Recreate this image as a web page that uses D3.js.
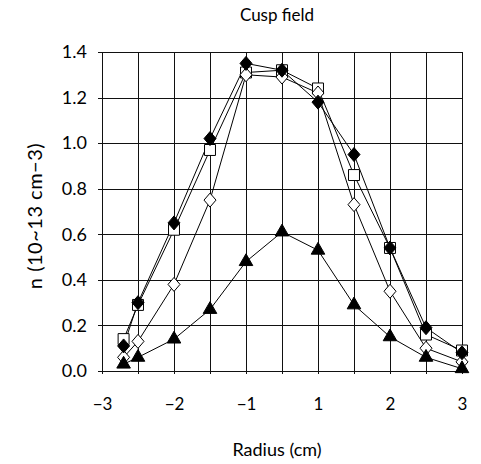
<!DOCTYPE html>
<html>
<head>
<meta charset="utf-8">
<script src="https://cdn.jsdelivr.net/npm/d3@7/dist/d3.min.js"></script>
<style>
  html, body { margin: 0; padding: 0; background: #fff; }
  svg { display: block; }
  text { font-family: "Lato", "Open Sans", sans-serif; fill: #000; }
</style>
</head>
<body>
<svg id="chart" width="481" height="464"></svg>
<script>
// ---- data ----
const radius = [-2.7, -2.5, -2, -1.5, -1, 0, 1, 1.5, 2, 2.5, 3];
const filledDiamond = [0.11, 0.30, 0.65, 1.02, 1.35, 1.32, 1.18, 0.95, 0.54, 0.19, 0.08];
const openSquare    = [0.14, 0.29, 0.62, 0.97, 1.31, 1.32, 1.24, 0.86, 0.54, 0.16, 0.09];
const openDiamond   = [0.06, 0.13, 0.38, 0.75, 1.30, 1.29, 1.22, 0.73, 0.35, 0.10, 0.04];
const filledTriangle= [0.03, 0.06, 0.14, 0.27, 0.48, 0.61, 0.53, 0.29, 0.15, 0.06, 0.01];
const xGrid = [-3, -2.5, -2, -1.5, -1, 0, 1, 1.5, 2, 2.5, 3];
const xTickLabels = [-3, -2, -1, 1, 2, 3];
const yTicks = [0, 0.2, 0.4, 0.6, 0.8, 1.0, 1.2, 1.4];
const titleText = "Cusp field";
const xLabel = "Radius (cm)";
const yLabel = "n (10~13 cm\u22123)";

// ---- layout ----
const svg = d3.select("#chart");
const L = 102, R = 462, T = 52, B = 371;

const x = d3.scaleLinear().domain([-3, -1, 1, 3]).range([L, L + 144, L + 216, R]);
const y = d3.scaleLinear().domain([0, 1.4]).range([B, T]);

// gridlines
const grid = svg.append("g").attr("stroke", "#111").attr("stroke-width", 1).attr("shape-rendering", "crispEdges");
grid.selectAll("line.v").data(xGrid).join("line")
  .attr("x1", d => Math.round(x(d)) + 0.5).attr("x2", d => Math.round(x(d)) + 0.5)
  .attr("y1", T).attr("y2", B + 3);
grid.selectAll("line.h").data(yTicks).join("line")
  .attr("x1", L - 4).attr("x2", R)
  .attr("y1", d => Math.round(y(d)) + 0.5).attr("y2", d => Math.round(y(d)) + 0.5);

// axes labels via d3 axes (text only)
const yAxis = svg.append("g").attr("transform", `translate(${L},0)`)
  .call(d3.axisLeft(y).tickValues(yTicks).tickFormat(d3.format(".1f")).tickSize(0).tickPadding(15));
yAxis.select(".domain").remove();
yAxis.selectAll("text").style("font-size", "18px").style("font-family", "Lato, sans-serif");

const xAxis = svg.append("g").attr("transform", `translate(0,${B})`)
  .call(d3.axisBottom(x).tickValues(xTickLabels).tickFormat(d3.format("d")).tickSize(0).tickPadding(27));
xAxis.select(".domain").remove();
xAxis.selectAll("text").style("font-size", "17px").style("font-family", "Lato, sans-serif");

// title & labels
svg.append("text").attr("x", 277).attr("y", 21).attr("text-anchor", "middle")
  .style("font-size", "17px").text(titleText);
svg.append("text").attr("x", 277).attr("y", 456).attr("text-anchor", "middle")
  .style("font-size", "18px").text(xLabel);
svg.append("text").attr("transform", "translate(42,216) rotate(-90)").attr("text-anchor", "middle")
  .style("font-size", "20px").style("letter-spacing", "0.5px").text(yLabel);

// series
const series = [
  { values: openSquare, symbol: d3.symbolSquare, size: 120, fill: "#fff" },
  { values: openDiamond, symbol: "diamond", size: 0, fill: "#fff" },
  { values: filledDiamond, symbol: "diamond", size: 0, fill: "#000" },
  { values: filledTriangle, symbol: d3.symbolTriangle, size: 80, fill: "#000" }
];

const line = d3.line().x(d => x(d[0])).y(d => y(d[1]));

series.forEach(s => {
  const pts = radius.map((r, i) => [r, s.values[i]]);
  svg.append("path").attr("d", line(pts)).attr("fill", "none")
    .attr("stroke", "#000").attr("stroke-width", 1);
});

series.forEach(s => {
  const pts = radius.map((r, i) => [r, s.values[i]]);
  const g = svg.append("g");
  pts.forEach(p => {
    const cx = x(p[0]), cy = y(p[1]);
    if (s.symbol === "diamond") {
      const w = 6, h = 7;
      g.append("path")
        .attr("d", `M${cx},${cy - h}L${cx + w},${cy}L${cx},${cy + h}L${cx - w},${cy}Z`)
        .attr("fill", s.fill).attr("stroke", "#000").attr("stroke-width", 1);
    } else {
      g.append("path")
        .attr("d", d3.symbol().type(s.symbol).size(s.size)())
        .attr("transform", `translate(${cx},${cy})`)
        .attr("fill", s.fill).attr("stroke", "#000").attr("stroke-width", 1);
    }
  });
});
</script>
</body>
</html>
